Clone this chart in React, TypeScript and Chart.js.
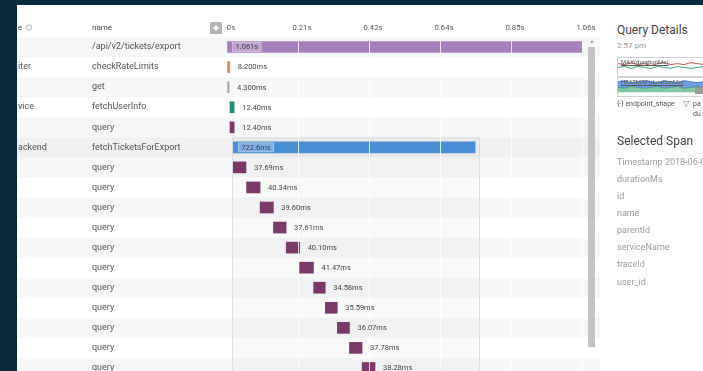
import React, { useEffect, useRef } from 'react';
import { Chart, registerables } from 'chart.js';

Chart.register(...registerables);

const FONT = 'Roboto, "Noto Sans", "DejaVu Sans", sans-serif';

// ---- trace data ----
const spanNames = [
  '/api/v2/tickets/export',
  'checkRateLimits',
  'get',
  'fetchUserInfo',
  'query',
  'fetchTicketsForExport',
  'query', 'query', 'query', 'query', 'query', 'query',
  'query', 'query', 'query', 'query', 'query',
];
const serviceFragments = ['', 'iter', '', 'vice', '', 'ackend', '', '', '', '', '', '', '', '', '', '', ''];
const startMs = [0, 0, 2, 9, 9, 19, 19, 58.5, 99, 139, 177, 217, 259, 294, 330, 366, 404];
const durationMs = [1061, 8.2, 4.3, 12.4, 12.4, 722.6, 37.69, 40.34, 39.6, 37.61, 40.1, 41.47, 34.58, 35.59, 36.07, 37.78, 38.28];
const durationLabels = [
  '1.061s', '8.200ms', '4.300ms', '12.40ms', '12.40ms', '722.6ms',
  '37.69ms', '40.34ms', '39.60ms', '37.61ms', '40.10ms', '41.47ms',
  '34.58ms', '35.59ms', '36.07ms', '37.78ms', '38.28ms',
];
const spanColors = [
  '#a97ec0', '#e08d4e', '#a6a6a6', '#1f8f76', '#7b3868', '#4a8fd6',
  '#7b3868', '#7b3868', '#7b3868', '#7b3868', '#7b3868', '#7b3868',
  '#7b3868', '#7b3868', '#7b3868', '#7b3868', '#7b3868',
];
const selectedRow = 5;
const tickValuesMs = [0, 212.2, 424.4, 636.6, 848.8, 1061];
const tickLabels = ['0s', '0.21s', '0.42s', '0.64s', '0.85s', '1.06s'];

// ---- side panel ----
const spanFields = ['Timestamp 2018-06-04', 'durationMs', 'id', 'name', 'parentId', 'serviceName', 'traceId', 'user_id'];
const fieldCenters = [162, 179, 196, 213, 230, 247, 264, 282];

// mini query-details thumbnail (estimated)
const miniX = ['1', '2', '3', '4', '5', '6', '7', '8', '9', '10', '11', '12', '13', '14'];
const maxRedValues = [33, 32, 34, 32, 33, 31, 33, 34, 32, 33, 32, 34, 33, 32];
const maxGreenValues = [29, 30, 28, 30, 29, 28, 30, 29, 28, 30, 29, 28, 29, 30];
const heatBlueValues = [14, 15, 13, 14, 15, 14, 13, 15, 14, 13, 15, 14, 13, 14];
const heatGreenValues = [8, 7, 9, 8, 7, 8, 9, 7, 8, 9, 7, 8, 9, 8];

const rowBands = {
  id: 'rowBands',
  beforeDraw(chart: any) {
    const { ctx } = chart;
    const y = chart.scales.y;
    const rowH = (y.bottom - y.top) / spanNames.length;
    ctx.save();
    spanNames.forEach((_, i) => {
      const c = y.getPixelForValue(i);
      let col: string | null = null;
      if (i === selectedRow) col = '#eff0f2';
      else if (i % 2 === 0) col = '#f6f7f8';
      if (col) {
        ctx.fillStyle = col;
        ctx.fillRect(0, c - rowH / 2, chart.width, rowH);
      }
    });
    // header texts
    ctx.fillStyle = '#444';
    ctx.font = `8px ${FONT}`;
    ctx.textBaseline = 'middle';
    ctx.textAlign = 'left';
    ctx.fillText('name', y.left, 22);
    ctx.fillText('e', 1, 22);
    ctx.strokeStyle = '#999';
    ctx.lineWidth = 0.8;
    ctx.beginPath();
    ctx.arc(12, 21.5, 2.6, 0, Math.PI * 2);
    ctx.stroke();
    // service column fragments
    ctx.fillStyle = '#555';
    ctx.font = `9px ${FONT}`;
    serviceFragments.forEach((s, i) => {
      if (s) ctx.fillText(s, 1, y.getPixelForValue(i));
    });
    // "+" button
    const bx = 193, by = 16;
    ctx.fillStyle = '#b3b3b3';
    ctx.beginPath();
    ctx.roundRect(bx, by, 12, 12, 1.5);
    ctx.fill();
    ctx.strokeStyle = '#fff';
    ctx.lineWidth = 1.6;
    ctx.beginPath();
    ctx.moveTo(bx + 6, by + 3);
    ctx.lineTo(bx + 6, by + 9);
    ctx.moveTo(bx + 3, by + 6);
    ctx.lineTo(bx + 9, by + 6);
    ctx.stroke();
    ctx.restore();
  },
  beforeDatasetsDraw(chart: any) {
    const { ctx } = chart;
    const x = chart.scales.x;
    const y = chart.scales.y;
    const rowH = (y.bottom - y.top) / spanNames.length;
    const x0 = x.getPixelForValue(startMs[selectedRow]) - 1.5;
    const x1 = x.getPixelForValue(startMs[selectedRow] + durationMs[selectedRow]) + 3.5;
    const y0 = y.getPixelForValue(selectedRow) - rowH / 2 + 0.5;
    ctx.save();
    ctx.fillStyle = 'rgba(0,0,0,0.025)';
    ctx.fillRect(x0, y0, x1 - x0, chart.height - y0 + 2);
    ctx.strokeStyle = '#d9dbde';
    ctx.lineWidth = 1;
    ctx.strokeRect(Math.round(x0) + 0.5, y0, Math.round(x1 - x0), chart.height - y0 + 4);
    ctx.restore();
  },
  afterDraw(chart: any) {
    const { ctx } = chart;
    const meta = chart.getDatasetMeta(0);
    ctx.save();
    ctx.font = `7.5px ${FONT}`;
    ctx.textBaseline = 'middle';
    ctx.textAlign = 'left';
    meta.data.forEach((bar: any, i: number) => {
      const p = bar.getProps(['x', 'base', 'y'], true);
      const xs = Math.min(p.x, p.base);
      const xe = Math.max(p.x, p.base);
      const txt = durationLabels[i];
      const tw = ctx.measureText(txt).width;
      if (xe - xs > 60) {
        const bx = xs + 5;
        ctx.fillStyle = 'rgba(255,255,255,0.3)';
        ctx.fillRect(bx, p.y - 4.5, tw + 6, 9);
        ctx.strokeStyle = 'rgba(255,255,255,0.45)';
        ctx.lineWidth = 0.8;
        ctx.strokeRect(bx, p.y - 4.5, tw + 6, 9);
        ctx.fillStyle = '#3d3d4a';
        ctx.fillText(txt, bx + 3, p.y + 0.5);
      } else {
        ctx.fillStyle = '#444';
        ctx.fillText(txt, xe + 8, p.y + 0.5);
      }
    });
    ctx.restore();
  },
};

export default function App() {
  const ref = useRef<HTMLCanvasElement | null>(null);
  const miniRef = useRef<HTMLCanvasElement | null>(null);

  useEffect(() => {
    if (!ref.current || !miniRef.current) return;
    const chart = new Chart(ref.current, {
      type: 'bar',
      data: {
        labels: spanNames,
        datasets: [
          {
            data: startMs.map((s, i) => [s, s + durationMs[i]]) as any,
            backgroundColor: spanColors,
            borderWidth: 0,
            barThickness: 11,
            borderSkipped: false,
          },
        ],
      },
      options: {
        animation: false,
        responsive: false,
        indexAxis: 'y',
        layout: { padding: { left: 75, right: 18, top: 0, bottom: 0 } },
        plugins: { legend: { display: false }, tooltip: { enabled: false } },
        scales: {
          x: {
            type: 'linear',
            position: 'top',
            min: 0,
            max: 1061,
            afterBuildTicks: (s: any) => {
              s.ticks = tickValuesMs.map((v) => ({ value: v }));
            },
            afterFit: (s: any) => {
              s.height = 31;
            },
            ticks: {
              callback: (_v: any, i: number) => tickLabels[i],
              color: '#555',
              font: { size: 7.7, family: FONT },
              padding: 4,
              labelOffset: 4,
              maxRotation: 0,
              autoSkip: false,
            },
            grid: {
              color: (c: any) => (c.index === 0 ? 'rgba(0,0,0,0)' : 'rgba(255,255,255,0.8)'),
              drawTicks: false,
              lineWidth: 1,
              z: 1,
            },
            border: { display: false },
          },
          y: {
            type: 'category',
            offset: true,
            afterFit: (s: any) => {
              s.width = 135;
              s.paddingTop = 0;
              s.paddingBottom = 0;
            },
            grid: { display: false },
            border: { display: false },
            ticks: {
              crossAlign: 'far',
              color: '#555',
              font: { size: 9, family: FONT },
              padding: 0,
              autoSkip: false,
            },
          },
        },
      },
      plugins: [rowBands],
    } as any);

    const mini = new Chart(miniRef.current, {
      type: 'line',
      data: {
        labels: miniX,
        datasets: [
          { data: maxRedValues, borderColor: '#b5574a', borderWidth: 1, pointRadius: 0, fill: false },
          { data: maxGreenValues, borderColor: '#3aa57c', borderWidth: 1, pointRadius: 0, fill: false },
          { data: heatBlueValues, borderColor: '#3f7fd0', backgroundColor: 'rgba(63,127,208,0.75)', borderWidth: 1, pointRadius: 0, fill: '+1' },
          { data: heatGreenValues, borderColor: '#48b07a', backgroundColor: 'rgba(72,176,122,0.7)', borderWidth: 1, pointRadius: 0, fill: { value: 3 } },
        ],
      },
      options: {
        animation: false,
        responsive: false,
        layout: { padding: 0 },
        plugins: { legend: { display: false }, tooltip: { enabled: false } },
        scales: {
          x: { display: false, offset: false },
          y: { display: false, min: 0, max: 40 },
        },
      },
    } as any);

    return () => {
      chart.destroy();
      mini.destroy();
    };
  }, []);

  const abs = (left: number, centerY: number, size: number, color: string, extra: any = {}) => ({
    position: 'absolute' as const,
    left,
    top: centerY - size * 0.6,
    height: size * 1.2,
    lineHeight: `${size * 1.2}px`,
    fontSize: size,
    color,
    whiteSpace: 'nowrap' as const,
    ...extra,
  });

  return (
    <div
      style={{
        position: 'fixed',
        left: 0,
        top: 0,
        width: 703,
        height: 371,
        overflow: 'hidden',
        background: '#072a40',
        fontFamily: FONT,
      }}
    >
      <div style={{ position: 'absolute', left: 17, top: 5, width: 700, height: 380, background: '#fff' }} />
      <canvas
        ref={ref}
        width={583}
        height={372}
        style={{ position: 'absolute', left: 17, top: 6, width: 583, height: 372 }}
      />
      {/* scrollbar */}
      <div
        style={{
          position: 'absolute',
          left: 590,
          top: 40,
          width: 0,
          height: 0,
          borderLeft: '2.5px solid transparent',
          borderRight: '2.5px solid transparent',
          borderBottom: '3px solid #aaa',
        }}
      />
      <div style={{ position: 'absolute', left: 588, top: 47, width: 7, height: 300, background: '#c4c4c4' }} />

      {/* right panel */}
      <div style={abs(617, 30, 12, '#444')}>Query Details</div>
      <div style={abs(617, 46, 8, '#999')}>2:57 pm</div>
      <canvas
        ref={miniRef}
        width={86}
        height={38}
        style={{ position: 'absolute', left: 618, top: 57, width: 86, height: 38 }}
      />
      <div style={{ position: 'absolute', left: 617, top: 57, width: 100, height: 18, border: '1px solid #cfd2d6' }} />
      <div style={{ position: 'absolute', left: 617, top: 77, width: 100, height: 18, border: '1px solid #cfd2d6' }} />
      <div style={abs(621, 62, 6, '#555', { textDecoration: 'underline' })}>MAX(durationMs)</div>
      <div style={abs(621, 82, 6, '#555', { textDecoration: 'underline' })}>HEATMAP(durationMs)</div>
      <div style={{ position: 'absolute', left: 695, top: 87, width: 8, height: 7, background: '#9a9a9a' }} />
      <div style={abs(617, 104, 7, '#555')}>{'{-}'} endpoint_shape</div>
      <div style={abs(683, 104, 8, '#777')}>▽</div>
      <div style={abs(693, 104, 7, '#555')}>pa</div>
      <div style={abs(693, 114, 7, '#555')}>du</div>
      <div style={abs(617, 141, 12, '#444')}>Selected Span</div>
      {spanFields.map((f, i) => (
        <div key={f} style={abs(617, fieldCenters[i], 9, '#9a9a9a')}>
          {f}
        </div>
      ))}
    </div>
  );
}
